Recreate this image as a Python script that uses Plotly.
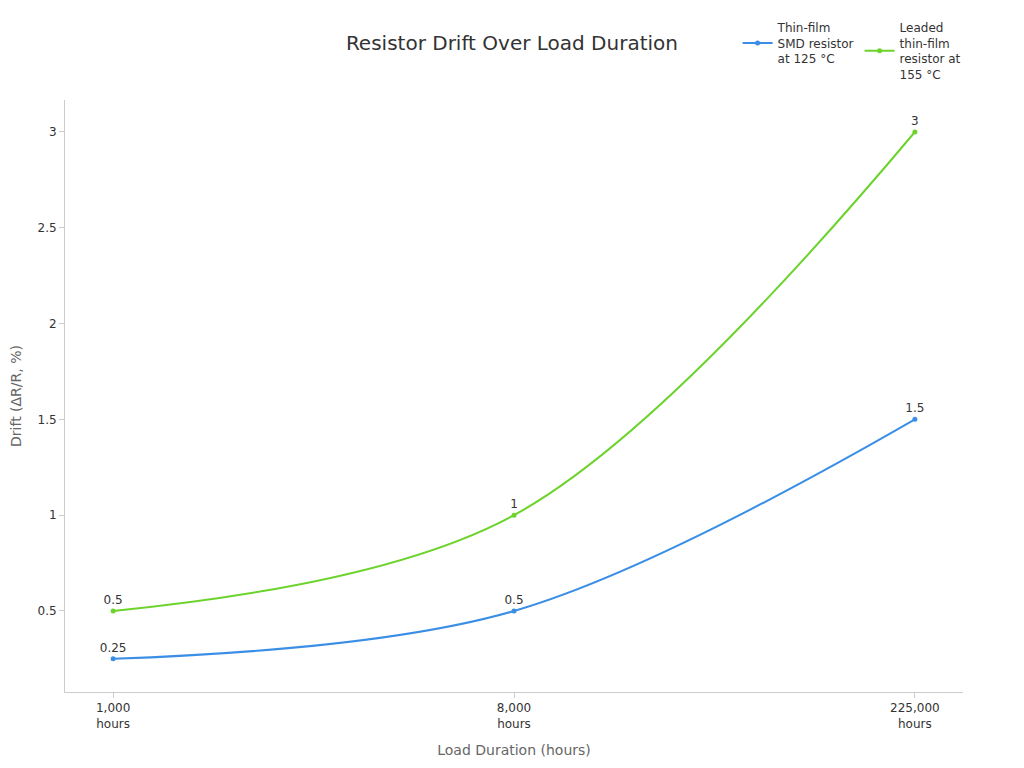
import plotly.graph_objects as go

categories = ["1,000<br>hours", "8,000<br>hours", "225,000<br>hours"]
smd_values = [0.25, 0.5, 1.5]
leaded_values = [0.5, 1, 3]
series_names = ["Thin-film<br>SMD resistor<br>at 125 °C", "Leaded<br>thin-film<br>resistor at<br>155 °C"]
colors = ["#3a8ee6", "#6cd32c"]

fig = go.Figure()
for name, vals, col in zip(series_names, [smd_values, leaded_values], colors):
    fig.add_trace(go.Scatter(
        x=categories, y=vals, name=name,
        mode="lines+markers+text",
        line=dict(color=col, width=2, shape="spline", smoothing=1),
        marker=dict(color=col, size=5),
        text=[f"{v:g}" for v in vals],
        textposition="top center",
        textfont=dict(size=12, color="#333333"),
        cliponaxis=False,
    ))

fig.update_layout(
    width=1016, height=760,
    paper_bgcolor="white", plot_bgcolor="white",
    font=dict(family="DejaVu Sans", size=12, color="#333333"),
    title=dict(text="Resistor Drift Over Load Duration", x=0.496, xref="container", xanchor="center",
               y=0.954, yref="container", yanchor="middle",
               font=dict(size=20, color="#333333")),
    margin=dict(l=57, r=61, t=92, b=76, autoexpand=False),
    legend=dict(orientation="h", x=0.749, xanchor="left", y=1.147, yanchor="top",
                font=dict(size=12, color="#333333"), itemwidth=30, valign="middle"),
    xaxis=dict(type="category", range=[-0.12, 2.12], showline=True, linecolor="#cccccc",
               ticks="outside", tickcolor="#cccccc", ticklen=5, showgrid=False, automargin=False,
               title=dict(text="Load Duration (hours)", font=dict(size=14, color="#666666"), standoff=15),
               tickfont=dict(size=12, color="#333333")),
    yaxis=dict(range=[0.077, 3.167], showline=True, linecolor="#cccccc", ticks="outside",
               tickcolor="#cccccc", ticklen=5, showgrid=False, zeroline=False, automargin=True,
               tickvals=[0.5, 1, 1.5, 2, 2.5, 3], ticktext=["0.5", "1", "1.5", "2", "2.5", "3"],
               title=dict(text="Drift (ΔR/R, %)", font=dict(size=14, color="#666666"), standoff=17),
               tickfont=dict(size=12, color="#333333")),
)

fig.write_html("out.html")
